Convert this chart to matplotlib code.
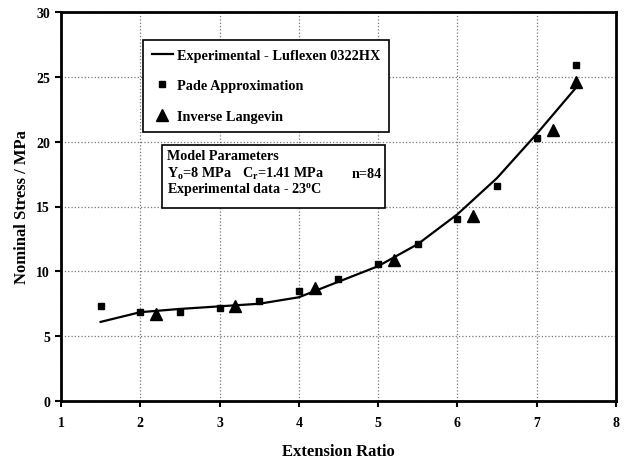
import matplotlib
matplotlib.use("Agg")
from matplotlib import pyplot as plt
from matplotlib.patches import Rectangle

plt.rcParams["font.family"] = ["Liberation Serif", "DejaVu Serif"]
plt.rcParams["font.weight"] = "bold"
plt.rcParams["mathtext.fontset"] = "custom"
plt.rcParams["mathtext.rm"] = "Liberation Serif:bold"
plt.rcParams["mathtext.bf"] = "Liberation Serif:bold"
plt.rcParams["mathtext.it"] = "Liberation Serif:bold"
plt.rcParams["mathtext.default"] = "bf"

# experimental curve
exp_x = [1.5, 2.0, 2.5, 3.0, 3.5, 4.0, 4.5, 5.0, 5.5, 6.0, 6.5, 7.0, 7.5]
exp_y = [6.1, 6.85, 7.1, 7.3, 7.5, 8.0, 9.2, 10.4, 12.1, 14.4, 17.2, 20.6, 24.2]

# Pade approximation (squares)
pade_x = [1.5, 2.0, 2.5, 3.0, 3.5, 4.0, 4.5, 5.0, 5.5, 6.0, 6.5, 7.0, 7.5]
pade_y = [7.3, 6.85, 6.9, 7.2, 7.7, 8.5, 9.4, 10.6, 12.1, 14.0, 16.6, 20.3, 25.9]

# Inverse Langevin (triangles)
il_x = [2.2, 3.2, 4.2, 5.2, 6.2, 7.2, 7.5]
il_y = [6.7, 7.3, 8.7, 10.9, 14.3, 20.9, 24.6]

fig = plt.figure(figsize=(6.28, 4.6), dpi=100)
ax = fig.add_axes([61/628, 58/460, 555/628, 389/460])

ax.plot(exp_x, exp_y, color="black", linewidth=1.6, label="Experimental - Luflexen 0322HX", zorder=3)
ax.plot(pade_x, pade_y, linestyle="none", marker="s", markersize=5, color="black", label="Pade Approximation", zorder=4)
ax.plot(il_x, il_y, linestyle="none", marker="^", markersize=8, color="black", label="Inverse Langevin", zorder=4)

ax.set_xlim(1, 8)
ax.set_ylim(0, 30)
ax.set_xticks(range(1, 9))
ax.set_yticks(range(0, 31, 5))
ax.grid(True, linestyle=":", color="#777777", linewidth=0.9)
for s in ax.spines.values():
    s.set_linewidth(2)
ax.tick_params(direction="out", length=4, width=1.5, labelsize=10)
ax.tick_params(axis="x", pad=7)
ax.tick_params(axis="y", pad=4)
for lbl in ax.get_xticklabels() + ax.get_yticklabels():
    lbl.set_fontweight("bold")

ax.set_xlabel("Extension Ratio", fontsize=12, fontweight="bold", labelpad=10)
ax.set_ylabel("Nominal Stress / MPa", fontsize=12, fontweight="bold", labelpad=4)

leg = ax.legend(loc="upper left", bbox_to_anchor=(143/628, 1 - 41/460),
                bbox_transform=fig.transFigure, fontsize=10.3, frameon=True,
                fancybox=False, framealpha=1, edgecolor="black",
                handlelength=1.5, handletextpad=0.3, labelspacing=1.25,
                borderpad=0.6, borderaxespad=0)
leg.get_frame().set_linewidth(1.2)

# model parameters box
fig.patches.append(Rectangle((162/628, 1 - 209/460), 223/628, 63/460,
                             transform=fig.transFigure, facecolor="white",
                             edgecolor="black", linewidth=1.2, zorder=5))
fs = 10.2
fig.text(167/628, 1 - 157/460, "Model Parameters", fontsize=fs, va="center", zorder=6)
fig.text(167/628, 1 - 174/460, r"Y$_\mathrm{o}$=8 MPa", fontsize=fs, va="center", zorder=6)
fig.text(242/628, 1 - 174/460, r"C$_\mathrm{r}$=1.41 MPa", fontsize=fs, va="center", zorder=6)
fig.text(352/628, 1 - 174/460, "n=84", fontsize=fs, va="center", zorder=6)
fig.text(167/628, 1 - 190/460, r"Experimental data - 23$^\mathrm{o}$C", fontsize=fs, va="center", zorder=6)

fig.savefig("out.png", dpi=100)
